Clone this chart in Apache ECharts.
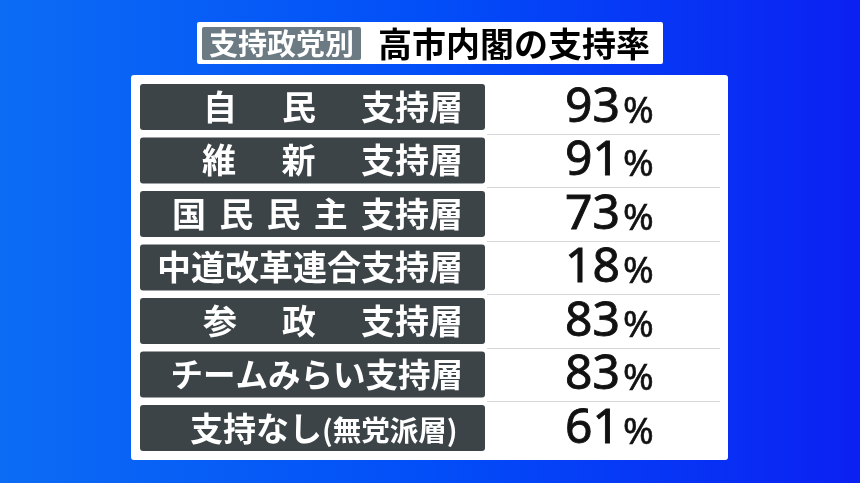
<!DOCTYPE html>
<html>
<head>
<meta charset="utf-8">
<script src="https://cdn.jsdelivr.net/npm/echarts@6/dist/echarts.min.js"></script>
<style>
html,body{margin:0;padding:0;width:860px;height:483px;overflow:hidden;}
#chart{width:860px;height:483px;}
</style>
</head>
<body>
<div id="chart"></div>
<script>
// ---- data ----
const tagText = '支持政党別';
const titleText = '高市内閣の支持率';
const categories = ['自 民 支持層', '維 新 支持層', '国 民 民 主 支持層', '中道改革連合支持層', '参 政 支持層', 'チームみらい支持層', '支持なし|(無党派層)'];
const values = [93, 91, 73, 18, 83, 83, 61];
const unit = '%';

// ---- layout / style ----
const JP = '"Noto Sans CJK JP", "Noto Sans", sans-serif';
const NUM = '"Noto Sans", "Open Sans", sans-serif';
const labelStart = [203, 202, 172, 163, 203, 172, 190];
const labelSize = [34, 34, 34, 34, 34, 32.5, 33];
const labelEnd = 463;

const cv = document.createElement('canvas').getContext('2d');
function measure(t, fs) { cv.font = 'bold ' + fs + 'px ' + JP; return cv.measureText(t).width; }

const chart = echarts.init(document.getElementById('chart'));

function txt(x, y, s, fs, align) {
  return { type: 'text', x: x, y: y, style: { text: s, fill: '#fff', font: 'bold ' + fs + 'px ' + JP, align: align, verticalAlign: 'middle' } };
}

function renderItem(params, api) {
  const i = api.value(1);
  const v = api.value(0);
  const c = api.coord([0, i]);
  const band = api.size([0, 1])[1];
  const yc = c[1];
  const h = 46;
  const fs = labelSize[i];
  const children = [];
  children.push({ type: 'rect', shape: { x: 140, y: yc - h / 2, width: 345, height: h, r: 3 }, style: { fill: '#3c4448' } });
  if (i > 0) {
    const ly = Math.round(yc - band / 2) + 0.5;
    children.push({ type: 'line', shape: { x1: 487, y1: ly, x2: 720, y2: ly }, style: { stroke: '#d6d8da', lineWidth: 1 } });
  }
  const lab = categories[i];
  if (lab.indexOf('|') >= 0) {
    const parts = lab.split('|');
    const w1 = measure(parts[0], fs);
    children.push(txt(labelStart[i], yc, parts[0], fs, 'left'));
    children.push(txt(labelStart[i] + w1, yc + 2, parts[1], 28.5, 'left'));
  } else {
    const segs = lab.split(' ');
    if (segs.length === 1) {
      children.push(txt(labelEnd, yc, segs[0], fs, 'right'));
    } else {
      const ws = segs.map(s => measure(s, fs));
      const tot = ws.reduce((a, b) => a + b, 0);
      const gap = (labelEnd - labelStart[i] - tot) / (segs.length - 1);
      let x = labelStart[i];
      segs.forEach((s, k) => {
        children.push(txt(x, yc, s, fs, 'left'));
        x += ws[k] + gap;
      });
    }
  }
  children.push({ type: 'text', x: 620, y: yc + 1, style: { text: String(v), fill: '#111', stroke: '#111', lineWidth: 0.9, font: '48px ' + NUM, align: 'right', verticalAlign: 'middle' } });
  children.push({ type: 'text', x: 623, y: yc + 5, style: { text: unit, fill: '#111', stroke: '#111', lineWidth: 0.6, font: '37px ' + NUM, align: 'left', verticalAlign: 'middle' } });
  return { type: 'group', children: children };
}

chart.setOption({
  animation: false,
  backgroundColor: {
    type: 'linear', x: 0, y: 0, x2: 1, y2: 0,
    colorStops: [
      { offset: 0, color: '#0c6cf4' },
      { offset: 0.5, color: '#024ef8' },
      { offset: 1, color: '#0b20f2' }
    ]
  },
  graphic: [
    { type: 'rect', z: -10, shape: { x: 197, y: 22, width: 466, height: 42, r: 2 }, style: { fill: '#ffffff' } },
    { type: 'rect', z: -9, shape: { x: 202, y: 27, width: 159, height: 33, r: 2 }, style: { fill: '#6b7a83' } },
    { type: 'text', z: -8, x: 281.5, y: 44, style: { text: tagText, fill: '#ffffff', font: 'bold 29px ' + JP, align: 'center', verticalAlign: 'middle' } },
    { type: 'text', z: -8, x: 378, y: 44, style: { text: titleText, fill: '#000000', font: 'bold 34px ' + JP, align: 'left', verticalAlign: 'middle' } },
    { type: 'rect', z: -10, shape: { x: 131, y: 75, width: 597, height: 385, r: 3 }, style: { fill: '#ffffff' } }
  ],
  grid: { left: 140, right: 140, top: 80.25, height: 374.5 },
  xAxis: { type: 'value', min: 0, max: 100, show: false },
  yAxis: { type: 'category', data: categories, inverse: true, show: false },
  series: [{
    type: 'custom',
    renderItem: renderItem,
    encode: { x: 0, y: 1 },
    data: values.map((v, i) => [v, i])
  }]
});
</script>
</body>
</html>
